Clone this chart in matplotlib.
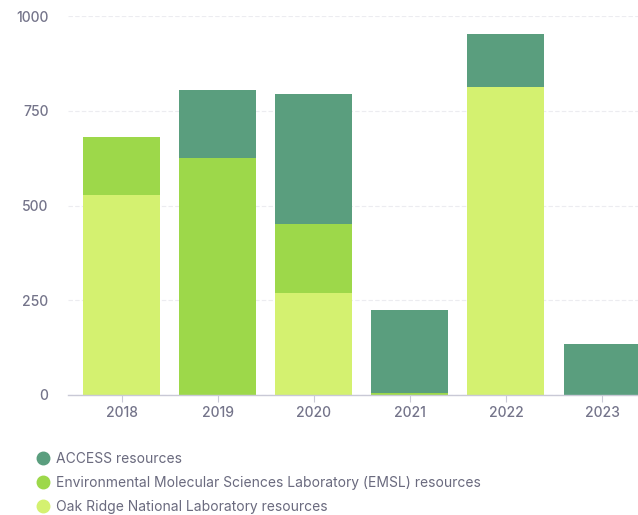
import matplotlib
matplotlib.use("Agg")
import matplotlib.pyplot as plt
from matplotlib.lines import Line2D
import numpy as np

years = ["2018", "2019", "2020", "2021", "2022", "2023"]
access = [0, 178, 342, 217, 139, 135]
emsl = [152, 626, 181, 6, 0, 0]
ornl = [528, 0, 270, 0, 813, 0]

series_names = ["ACCESS resources",
                "Environmental Molecular Sciences Laboratory (EMSL) resources",
                "Oak Ridge National Laboratory resources"]
colors = ["#5a9e7e", "#9dd84a", "#d4f170"]
yticks = [0, 250, 500, 750, 1000]

plt.rcParams['font.family'] = ['Inter', 'DejaVu Sans']

W, H = 638, 515
fig = plt.figure(figsize=(W / 100, H / 100), dpi=100)
left_px, right_px, top_px, bot_px = 68, 638, 16, 395
ax = fig.add_axes([left_px / W, 1 - bot_px / H, (right_px - left_px) / W, (bot_px - top_px) / H])

x = np.arange(len(years))
step = 96.1
c0 = 121.5
ax.set_xlim((left_px - c0) / step, (right_px - c0) / step)
ax.set_ylim(0, 1000)

bw = 0.80
ornl_a = np.array(ornl)
emsl_a = np.array(emsl)
access_a = np.array(access)
ax.bar(x, ornl_a, width=bw, color=colors[2], zorder=3)
ax.bar(x, emsl_a, width=bw, bottom=ornl_a, color=colors[1], zorder=3)
ax.bar(x, access_a, width=bw, bottom=ornl_a + emsl_a, color=colors[0], zorder=3)

ax.set_yticks(yticks)
ax.set_yticklabels([str(v) for v in yticks])
ax.set_xticks(x)
ax.set_xticklabels(years)

for s in ["top", "right", "left"]:
    ax.spines[s].set_visible(False)
ax.spines["bottom"].set_color("#c9c9d6")
ax.spines["bottom"].set_linewidth(1.0)
ax.spines["bottom"].set_zorder(4)

ax.yaxis.grid(True, color="#ececf0", linewidth=0.8, linestyle=(0, (4, 2)), zorder=0)
ax.tick_params(axis="y", length=0, pad=14, labelsize=10, labelcolor="#74748a")
ax.tick_params(axis="x", length=5, width=0.8, color="#c9c9d6", pad=3, labelsize=10, labelcolor="#74748a")
for lab in ax.get_yticklabels() + ax.get_xticklabels():
    lab.set_fontweight("medium")

handles = [Line2D([0], [0], marker="o", linestyle="none", markersize=9,
                  markerfacecolor=c, markeredgecolor=c) for c in colors]
leg = fig.legend(handles, series_names, loc="upper left",
                 bbox_to_anchor=(30 / W, 1 - 446 / H), frameon=False,
                 fontsize=10, labelcolor="#6a6a7e", handletextpad=0.45,
                 labelspacing=0.72, handlelength=1.0, borderaxespad=0)

fig.savefig("out.png", dpi=100)
